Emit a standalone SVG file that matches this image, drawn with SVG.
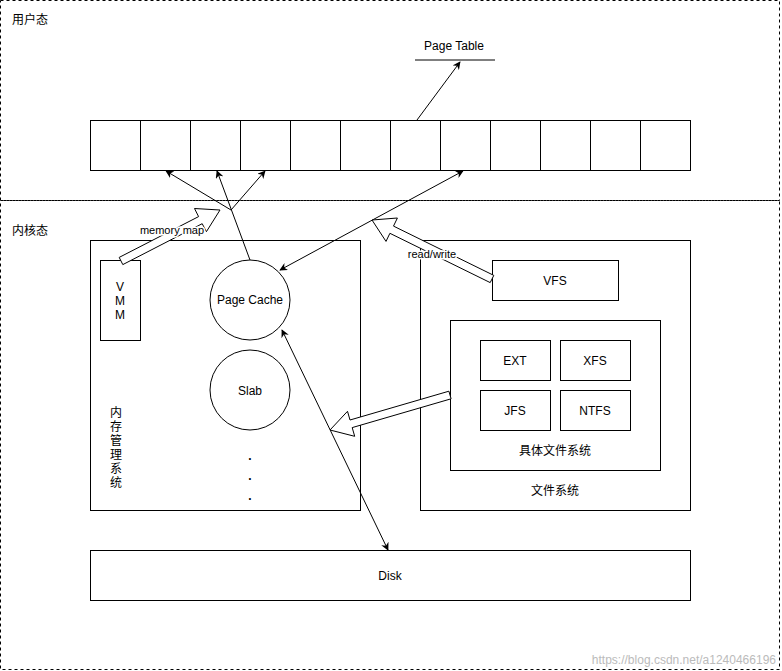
<svg xmlns="http://www.w3.org/2000/svg" width="782" height="671" viewBox="0 0 782 671">
<defs>
<marker id="ah" viewBox="0 0 10 10" refX="9" refY="5" markerWidth="8" markerHeight="8" orient="auto-start-reverse" markerUnits="userSpaceOnUse"><path d="M0,0 L10,5 L0,10 L3,5 z" fill="#000"/></marker>
<style>
text{font-family:"Liberation Sans",Arial,sans-serif;font-size:12px;fill:#000}
.cjk{font-family:"Liberation Sans","Noto Sans CJK SC",sans-serif}
.b{fill:#fff;stroke:#000;stroke-width:1}
.d{fill:none;stroke:#000;stroke-dasharray:3 3}
.l{stroke:#000;fill:none;marker-end:url(#ah)}
</style>
</defs>
<rect width="782" height="671" fill="#fff"/>
<g id="user"><rect class="d" x="0.5" y="0.5" width="779" height="200"/><text class="cjk" x="12" y="24">用户态</text></g>
<g id="kernel"><rect class="d" x="0.5" y="200.5" width="779" height="469"/><text class="cjk" x="12" y="235">内核态</text></g>
<g id="pagetable"><line x1="415" y1="60" x2="495" y2="60" stroke="#000"/><text x="454" y="50" text-anchor="middle">Page Table</text></g>
<g id="cells">
<rect class="b" x="90.5" y="120.5" width="600" height="50"/>
<path d="M140.5 120v50M190.5 120v50M240.5 120v50M290.5 120v50M340.5 120v50M390.5 120v50M440.5 120v50M490.5 120v50M540.5 120v50M590.5 120v50M640.5 120v50" stroke="#000"/>
</g>
<g id="mem"><rect class="b" x="90.5" y="240.5" width="270" height="270"/>
<text class="cjk" x="116" y="417" text-anchor="middle">内</text><text class="cjk" x="116" y="431" text-anchor="middle">存</text><text class="cjk" x="116" y="445" text-anchor="middle">管</text><text class="cjk" x="116" y="459" text-anchor="middle">理</text><text class="cjk" x="116" y="473" text-anchor="middle">系</text><text class="cjk" x="116" y="487" text-anchor="middle">统</text>
<text x="250" y="460" text-anchor="middle" font-weight="bold">.</text><text x="250" y="480" text-anchor="middle" font-weight="bold">.</text><text x="250" y="500" text-anchor="middle" font-weight="bold">.</text>
</g>
<g id="vmm"><rect class="b" x="100.5" y="260.5" width="40" height="80"/><text x="120" y="291" text-anchor="middle">V</text><text x="120" y="305" text-anchor="middle">M</text><text x="120" y="319" text-anchor="middle">M</text></g>
<g id="pagecache"><circle class="b" cx="250" cy="300" r="40"/><text x="250" y="304" text-anchor="middle">Page Cache</text></g>
<g id="slab"><circle class="b" cx="250" cy="390" r="40"/><text x="250" y="395" text-anchor="middle">Slab</text></g>
<g id="fs"><rect class="b" x="420.5" y="240.5" width="270" height="270"/><text class="cjk" x="555" y="495" text-anchor="middle">文件系统</text></g>
<g id="vfs"><rect class="b" x="492.5" y="260.5" width="126" height="40"/><text x="555" y="285" text-anchor="middle">VFS</text></g>
<g id="concrete"><rect class="b" x="450.5" y="320.5" width="210" height="150"/><text class="cjk" x="555" y="455" text-anchor="middle">具体文件系统</text></g>
<g id="ext"><rect class="b" x="480.5" y="340.5" width="70" height="40"/><text x="515" y="365" text-anchor="middle">EXT</text></g>
<g id="xfs"><rect class="b" x="560.5" y="340.5" width="70" height="40"/><text x="595" y="365" text-anchor="middle">XFS</text></g>
<g id="jfs"><rect class="b" x="480.5" y="390.5" width="70" height="40"/><text x="515" y="415" text-anchor="middle">JFS</text></g>
<g id="ntfs"><rect class="b" x="560.5" y="390.5" width="70" height="40"/><text x="595" y="415" text-anchor="middle">NTFS</text></g>
<g id="disk"><rect class="b" x="90.5" y="550.5" width="600" height="50"/><text x="390" y="580" text-anchor="middle">Disk</text></g>
<g id="connectors">
<line class="l" x1="417" y1="120" x2="460" y2="62"/>
<line class="l" x1="250" y1="260" x2="217" y2="171"/>
<line class="l" x1="231" y1="210" x2="166" y2="171"/>
<line class="l" x1="231" y1="210" x2="265" y2="171"/>
<line class="l" x1="280" y1="270" x2="463" y2="171" marker-start="url(#ah)"/>
<line class="l" x1="282" y1="330" x2="388" y2="550" marker-start="url(#ah)"/>
<polygon class="b" points="122.8,264.6 202.2,223.7 206.4,231.7 220,210 194.5,208.5 198.6,216.6 119.2,257.4"/>
<polygon class="b" points="493.8,275.4 393.5,226.1 397.4,218 372,220 386,241.4 389.9,233.3 490.2,282.6"/>
<polygon class="b" points="451.1,398.8 352.2,427.6 354.7,436.3 330,430 347.5,411.3 350,420 448.9,391.2"/>
<text x="172" y="234" text-anchor="middle" style="font-size:11px;paint-order:stroke" stroke="#fff" stroke-width="3">memory map</text>
<text x="432" y="258" text-anchor="middle" style="font-size:11px;paint-order:stroke" stroke="#fff" stroke-width="3">read/write</text>
</g>
<text x="776" y="664" text-anchor="end" style="fill:#bbb;font-size:12px">https://blog.csdn.net/a1240466196</text>
</svg>
